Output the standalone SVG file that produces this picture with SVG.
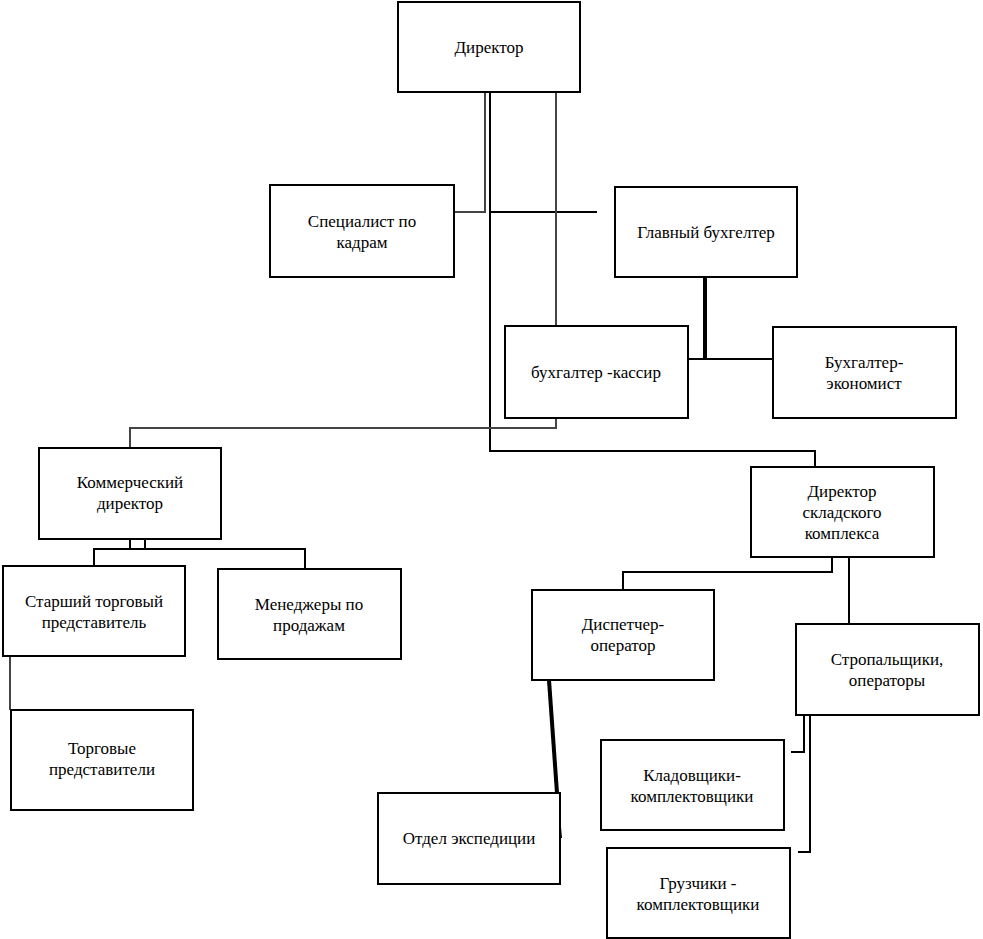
<svg xmlns="http://www.w3.org/2000/svg" width="983" height="939" viewBox="0 0 983 939">
<style>
rect{fill:#fff;stroke:#000;stroke-width:2}
text{font-family:"Liberation Serif","Times New Roman",serif;font-size:17px;text-anchor:middle;fill:#000}
.c path{fill:none;stroke:#000;stroke-width:2}
.c .g{stroke:#444}
.c .t{stroke-width:4}
</style>
<rect x="0" y="0" width="983" height="939" style="stroke:none"/>
<g class="c" id="connectors">
<path class="g" d="M485,92V212H454"/>
<path d="M490,92V451H815V467"/>
<path d="M490,212H597"/>
<path class="g" d="M556,92V326"/>
<path class="g" d="M556,418V428H130V448"/>
<path class="t" d="M705,277V359"/>
<path d="M688,359H773"/>
<path d="M130,539V549M145,539V549M94,566V549H305V569"/>
<path class="g" d="M10,656V710"/>
<path d="M832,557V572H623V590"/>
<path d="M849,557V624"/>
<path class="t" d="M549,680L557,793"/>
<path d="M557,793L561,838"/>
<path d="M804,715V752H791"/>
<path d="M810,715V852H798"/>
</g>
<g id="n1"><rect x="398" y="2" width="182" height="90"/><text x="489" y="53">Директор</text></g>
<g id="n2"><rect x="270" y="185" width="184" height="92"/><text x="362" y="227">Специалист по</text><text x="362" y="248">кадрам</text></g>
<g id="n3"><rect x="615" y="187" width="182" height="90"/><text x="706" y="238">Главный бухгелтер</text></g>
<g id="n4"><rect x="505" y="326" width="183" height="92"/><text x="596" y="378">бухгалтер -кассир</text></g>
<g id="n5"><rect x="773" y="327" width="183" height="91"/><text x="864" y="368">Бухгалтер-</text><text x="864" y="389">экономист</text></g>
<g id="n6"><rect x="39" y="448" width="182" height="91"/><text x="130" y="488">Коммерческий</text><text x="130" y="509">директор</text></g>
<g id="n7"><rect x="751" y="467" width="183" height="90"/><text x="842" y="497">Директор</text><text x="842" y="518">складского</text><text x="842" y="539">комплекса</text></g>
<g id="n8"><rect x="3" y="566" width="182" height="90"/><text x="94" y="607">Старший торговый</text><text x="94" y="628">представитель</text></g>
<g id="n9"><rect x="218" y="569" width="183" height="90"/><text x="309" y="610">Менеджеры по</text><text x="309" y="631">продажам</text></g>
<g id="n10"><rect x="532" y="590" width="182" height="90"/><text x="623" y="630">Диспетчер-</text><text x="623" y="651">оператор</text></g>
<g id="n11"><rect x="796" y="624" width="183" height="91"/><text x="887" y="665">Стропальщики,</text><text x="887" y="686">операторы</text></g>
<g id="n12"><rect x="11" y="710" width="182" height="100"/><text x="102" y="754">Торговые</text><text x="102" y="775">представители</text></g>
<g id="n13"><rect x="601" y="740" width="183" height="90"/><text x="692" y="781">Кладовщики-</text><text x="692" y="802">комплектовщики</text></g>
<g id="n14"><rect x="378" y="793" width="182" height="91"/><text x="469" y="844">Отдел экспедиции</text></g>
<g id="n15"><rect x="607" y="848" width="183" height="90"/><text x="698" y="889">Грузчики -</text><text x="698" y="910">комплектовщики</text></g>
</svg>
